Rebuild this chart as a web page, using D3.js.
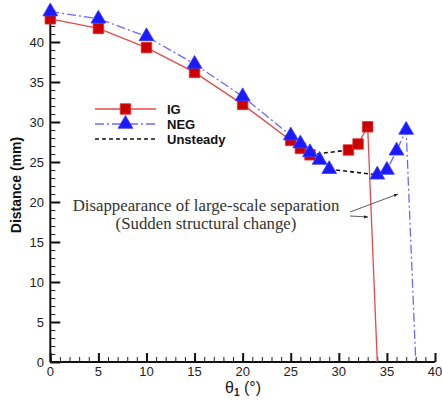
<!DOCTYPE html>
<html>
<head>
<meta charset="utf-8">
<script src="https://cdn.jsdelivr.net/npm/d3@7"></script>
<style>
  html, body { margin: 0; padding: 0; background: #fff; }
  svg { display: block; }
</style>
</head>
<body>
<svg id="chart" width="442" height="401"></svg>
<script>
// Separation distance vs. inlet angle for the IG and NEG configurations
const igTheta    = [0, 5, 10, 15, 20, 25, 26, 27, 31, 32, 33];
const igDist     = [42.9, 41.7, 39.3, 36.2, 32.2, 27.7, 26.7, 25.9, 26.5, 27.25, 29.4];
const negTheta   = [0, 5, 10, 15, 20, 25, 26, 27, 28, 29, 34, 35, 36, 37];
const negDist    = [43.8, 42.9, 40.7, 37.25, 33.2, 28.3, 27.3, 26.2, 25.25, 24.1, 23.4, 24.0, 26.4, 29.0];
// indices where the steady branch ends before the unsteady gap
const igBreak = 7, negBreak = 9;
// collapse points where the distance drops to zero
const igCollapse  = [34, 0];
const negCollapse = [38, 0];

const xTicks = [0, 5, 10, 15, 20, 25, 30, 35, 40];
const yTicks = [0, 5, 10, 15, 20, 25, 30, 35, 40];

const svg = d3.select("#chart");
const x = d3.scaleLinear().domain([0, 40]).range([50.3, 435]);
const y = d3.scaleLinear().domain([0, 44]).range([362, 10]);

const igColor = "#cc0000", igLine = "#e44a4a";
const negColor = "#1a1aff", negLine = "#6a6aff";

const pts = (xs, ys) => xs.map((v, i) => [v, ys[i]]);
const ig = pts(igTheta, igDist);
const neg = pts(negTheta, negDist);
const line = d3.line().x(d => x(d[0])).y(d => y(d[1]));

// axes
const axisFont = "Arial, 'Liberation Sans', sans-serif";
const gx = svg.append("g").attr("transform", `translate(0,${y(0)})`);
gx.call(d3.axisTop(x).tickValues(d3.range(0, 41, 1)).tickSize(5).tickFormat(""));
gx.call(g => g.selectAll(".tick line").attr("stroke", "#222").attr("stroke-width", 1));
const gxM = svg.append("g").attr("transform", `translate(0,${y(0)})`);
gxM.call(d3.axisTop(x).tickValues(xTicks).tickSize(9).tickFormat(""));
gxM.selectAll(".tick line").attr("stroke", "#111").attr("stroke-width", 2);
gxM.select(".domain").remove();
gx.select(".domain").attr("d", `M${x(0)},0H${x(40)}`).attr("stroke", "#111").attr("stroke-width", 2);

svg.append("g").selectAll("text").data(xTicks).join("text")
  .attr("x", d => x(d)).attr("y", y(0) + 14)
  .attr("text-anchor", "middle")
  .attr("font-family", axisFont).attr("font-size", 13).attr("fill", "#222")
  .text(d => d);

const gy = svg.append("g").attr("transform", `translate(${x(0)},0)`);
gy.call(d3.axisRight(y).tickValues(d3.range(0, 45, 1)).tickSize(5).tickFormat(""));
gy.selectAll(".tick line").attr("stroke", "#222");
gy.select(".domain").attr("d", `M0,${y(44)}V${y(0)}`).attr("stroke", "#111").attr("stroke-width", 2);
const gyM = svg.append("g").attr("transform", `translate(${x(0)},0)`);
gyM.call(d3.axisRight(y).tickValues(yTicks).tickSize(10).tickFormat(""));
gyM.selectAll(".tick line").attr("stroke", "#111").attr("stroke-width", 2);
gyM.select(".domain").remove();

svg.append("g").selectAll("text").data(yTicks).join("text")
  .attr("x", 44).attr("y", d => y(d) + 5)
  .attr("text-anchor", "end")
  .attr("font-family", axisFont).attr("font-size", 13).attr("fill", "#222")
  .text(d => d);

// axis titles
svg.append("text")
  .attr("transform", `translate(21,185) rotate(-90)`)
  .attr("text-anchor", "middle")
  .attr("font-family", axisFont).attr("font-size", 14).attr("font-weight", "bold").attr("fill", "#111")
  .text("Distance (mm)");

const xt = svg.append("text")
  .attr("x", 243).attr("y", 393)
  .attr("text-anchor", "middle")
  .attr("font-family", axisFont).attr("font-size", 16).attr("fill", "#222");
xt.append("tspan").text("θ");
xt.append("tspan").attr("font-size", 10).attr("font-weight", "bold").attr("dy", 3).text("1");
xt.append("tspan").attr("dy", -3).text(" (°)");

// unsteady connectors
const unsteady = [[ig[igBreak], ig[igBreak + 1]], [neg[negBreak], neg[negBreak + 1]]];
svg.append("g").selectAll("path").data(unsteady).join("path")
  .attr("d", line).attr("fill", "none")
  .attr("stroke", "#111").attr("stroke-width", 1.6).attr("stroke-dasharray", "4,3");

// IG curve segments
const igSegs = [ig.slice(0, igBreak + 1), ig.slice(igBreak + 1).concat([igCollapse])];
svg.append("g").selectAll("path").data(igSegs).join("path")
  .attr("d", line).attr("fill", "none")
  .attr("stroke", igLine).attr("stroke-width", 1.3);

// NEG curve segments
const negSegs = [neg.slice(0, negBreak + 1), neg.slice(negBreak + 1).concat([negCollapse])];
svg.append("g").selectAll("path").data(negSegs).join("path")
  .attr("d", line).attr("fill", "none")
  .attr("stroke", negLine).attr("stroke-width", 1.3).attr("stroke-dasharray", "9,3,2,3");

// markers
const sq = d3.symbol().type(d3.symbolSquare).size(110);
const tri = d3.symbol().type(d3.symbolTriangle).size(95);
svg.append("g").selectAll("path").data(ig).join("path")
  .attr("transform", d => `translate(${x(d[0])},${y(d[1])})`)
  .attr("d", sq).attr("fill", igColor).attr("stroke", "#e03030").attr("stroke-width", 0.8);
svg.append("g").selectAll("path").data(neg).join("path")
  .attr("transform", d => `translate(${x(d[0])},${y(d[1])})`)
  .attr("d", tri).attr("fill", negColor).attr("stroke", "#3a3aff").attr("stroke-width", 0.8);

// legend
const legend = [
  { name: "IG", stroke: igLine, dash: null, marker: sq, fill: igColor, mstroke: "#e03030" },
  { name: "NEG", stroke: negLine, dash: "9,3,2,3", marker: tri, fill: negColor, mstroke: "#3a3aff" },
  { name: "Unsteady", stroke: "#111", dash: "4,3", marker: null }
];
const lg = svg.append("g").selectAll("g").data(legend).join("g")
  .attr("transform", (d, i) => `translate(95,${109 + i * 15})`);
lg.append("line").attr("x1", 0).attr("x2", 61)
  .attr("stroke", d => d.stroke).attr("stroke-width", d => d.marker ? 1.3 : 1.6)
  .attr("stroke-dasharray", d => d.dash);
lg.filter(d => d.marker).append("path")
  .attr("transform", "translate(30.5,0)")
  .attr("d", d => d.marker()).attr("fill", d => d.fill).attr("stroke", d => d.mstroke).attr("stroke-width", 0.8);
lg.append("text").attr("x", 72).attr("y", 5)
  .attr("font-family", axisFont).attr("font-size", 13).attr("font-weight", "bold").attr("fill", "#111")
  .text(d => d.name);

// annotation
const serif = "'Liberation Serif', 'Times New Roman', serif";
svg.append("text").attr("x", 206).attr("y", 211).attr("text-anchor", "middle")
  .attr("font-family", serif).attr("font-size", 16.8).attr("fill", "#333")
  .text("Disappearance of large-scale separation");
svg.append("text").attr("x", 206).attr("y", 229).attr("text-anchor", "middle")
  .attr("font-family", serif).attr("font-size", 16.8).attr("fill", "#333")
  .text("(Sudden structural change)");

svg.append("defs").append("marker")
  .attr("id", "ah").attr("viewBox", "0 0 10 10").attr("refX", 10).attr("refY", 5)
  .attr("markerWidth", 7).attr("markerHeight", 5).attr("orient", "auto")
  .append("path").attr("d", "M0,1L10,5L0,9z").attr("fill", "#222");
const arrows = [[[350, 216], [368, 217]], [[350, 212], [398, 194]]];
svg.append("g").selectAll("line").data(arrows).join("line")
  .attr("x1", d => d[0][0]).attr("y1", d => d[0][1])
  .attr("x2", d => d[1][0]).attr("y2", d => d[1][1])
  .attr("stroke", "#333").attr("stroke-width", 0.8).attr("marker-end", "url(#ah)");
</script>
</body>
</html>
